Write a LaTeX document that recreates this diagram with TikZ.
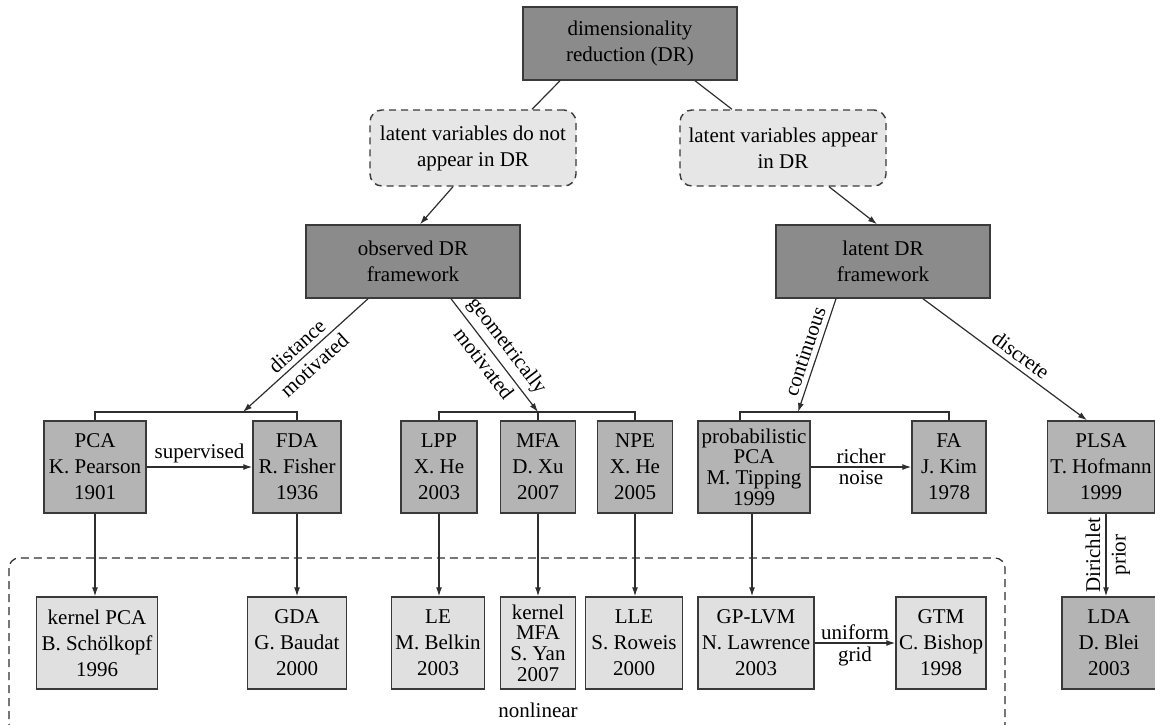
\documentclass[tikz,border=0pt]{standalone}
\usepackage{fontspec}
\setmainfont{Liberation Serif}
\usetikzlibrary{arrows.meta}
\definecolor{frameline}{HTML}{3A3A3A}
\definecolor{linecol}{HTML}{2E2E2E}
\definecolor{darkfill}{HTML}{8B8B8B}
\definecolor{midfill}{HTML}{B4B4B4}
\definecolor{lightfill}{HTML}{E0E0E0}
\definecolor{condfill}{HTML}{E6E6E6}
\begin{document}
\begin{tikzpicture}[x=0.5pt, y=-0.5pt,
  every node/.style={font=\fontsize{10.5}{13}\selectfont, align=center, inner sep=1.5pt},
  framebox/.style={rectangle, draw=frameline, line width=0.75pt, minimum height=46pt},
  darkbox/.style={framebox, fill=darkfill, minimum width=107pt, minimum height=36.5pt},
  methodbox/.style={framebox, fill=midfill},
  extbox/.style={framebox, fill=lightfill},
  condbox/.style={rectangle, rounded corners=6pt, draw=frameline, line width=0.7pt,
    dash pattern=on 3.5pt off 2.5pt, fill=condfill, minimum width=103pt, minimum height=38pt},
  tight/.style={font=\fontsize{10.5}{10.3}\selectfont},
  link/.style={draw=linecol, line width=0.6pt},
  arr/.style={link, -{Latex[length=4.5pt, width=3pt]}},
  edgetext/.style={midway, sloped, inner sep=2.5pt}
]
\useasboundingbox (0,0) rectangle (1155,724);

\draw (630,43.5) node(dr) [darkbox] {dimensionality\\reduction (DR)};
\draw (473,148) node(nolat) [condbox] {latent variables do not\\appear in DR};
\draw (783,148) node(lat) [condbox] {latent variables appear\\in DR};
\draw (413,261.5) node(obs) [darkbox] {observed DR\\framework};
\draw (883,261.5) node(latfw) [darkbox] {latent DR\\framework};

\draw (95,467) node(pca) [methodbox, minimum width=51pt] {PCA\\K. Pearson\\1901};
\draw (297,467) node(fda) [methodbox, minimum width=44pt] {FDA\\R. Fisher\\1936};
\draw (439,467) node(lpp) [methodbox, minimum width=38pt] {LPP\\X. He\\2003};
\draw (538,467) node(mfa) [methodbox, minimum width=37.5pt] {MFA\\D. Xu\\2007};
\draw (635,467) node(npe) [methodbox, minimum width=37.5pt] {NPE\\X. He\\2005};
\draw (754,467) node(ppca) [methodbox, tight, minimum width=56pt] {probabilistic\\PCA\\M. Tipping\\1999};
\draw (949,467) node(fa) [methodbox, minimum width=37pt] {FA\\J. Kim\\1978};
\draw (1101,467) node(plsa) [methodbox, minimum width=52.5pt] {PLSA\\T. Hofmann\\1999};

\draw (97,643) node(kpca) [extbox, minimum width=60.5pt] {kernel PCA\\B. Schölkopf\\1996};
\draw (297,643) node(gda) [extbox, minimum width=49.5pt] {GDA\\G. Baudat\\2000};
\draw (438,643) node(le) [extbox, minimum width=46.5pt] {LE\\M. Belkin\\2003};
\draw (538,643) node(kmfa) [extbox, tight, minimum width=37.5pt] {kernel\\MFA\\S. Yan\\2007};
\draw (634,643) node(lle) [extbox, minimum width=48.5pt] {LLE\\S. Roweis\\2000};
\draw (756,643) node(gplvm) [extbox, minimum width=58pt] {GP-LVM\\N. Lawrence\\2003};
\draw (941,643) node(gtm) [extbox, minimum width=45pt] {GTM\\C. Bishop\\1998};
\draw (1109,643) node(lda) [methodbox, minimum width=47pt] {LDA\\D. Blei\\2003};

\draw[link, dash pattern=on 4pt off 2.5pt, rounded corners=5pt] (9,558) rectangle (1005,734);
\draw (538,710) node(nonlin) {nonlinear};

\coordinate (distEnd) at (243,412);
\coordinate (geoEnd) at (538,412);
\coordinate (contEnd) at (798,412);

\draw[link] ([xshift=-35pt]dr.south) -- ([xshift=29.5pt]nolat.north);
\draw[link] ([xshift=32.5pt]dr.south) -- ([xshift=-25.5pt]lat.north);
\draw[arr] ([xshift=-10pt]nolat.south) -- ([xshift=3.5pt]obs.north);
\draw[arr] ([xshift=23pt]lat.south) -- ([xshift=-3pt]latfw.north);

\draw[arr] ([xshift=-22.5pt]obs.south) -- (distEnd)
  node[edgetext, above] {distance} node[edgetext, below] {motivated};
\draw[arr] ([xshift=19pt]obs.south) -- (geoEnd)
  node[edgetext, above] {geometrically} node[edgetext, below] {motivated};
\draw[arr] ([xshift=-23.5pt]latfw.south) -- (contEnd)
  node[edgetext, above] {continuous};
\draw[arr] ([xshift=20pt]latfw.south) -- ([xshift=-7pt]plsa.north)
  node[edgetext, pos=0.55, above] {discrete};

\draw[link] (pca.north) |- (fda.north |- distEnd) -- (fda.north);
\draw[link] (lpp.north) |- (npe.north |- geoEnd) -- (npe.north);
\draw[link] (geoEnd) -- (mfa.north);
\draw[link] ([xshift=-7pt]ppca.north) |- (fa.north |- contEnd) -- (fa.north);

\draw[arr] (pca.east) -- (fda.west) node[midway, above] {supervised};
\draw[arr] (ppca.east) -- (fa.west) node[midway, above] {richer} node[midway, below] {noise};
\draw[arr] (gplvm.east) -- (gtm.west) node[midway, above] {uniform} node[midway, below] {grid};

\draw[arr] (pca.south) -- (pca.south |- kpca.north);
\draw[arr] (fda.south) -- (fda.south |- gda.north);
\draw[arr] (lpp.south) -- (lpp.south |- le.north);
\draw[arr] (mfa.south) -- (mfa.south |- kmfa.north);
\draw[arr] (npe.south) -- (npe.south |- lle.north);
\draw[arr] ([xshift=-1pt]ppca.south) -- ([xshift=-1pt]ppca.south |- gplvm.north);
\draw[arr] ([xshift=2.5pt]plsa.south) -- ([xshift=2.5pt]plsa.south |- lda.north)
  node[midway, rotate=90, anchor=south, inner sep=2.5pt] {Dirichlet}
  node[midway, rotate=90, anchor=north, inner sep=2.5pt] {prior};
\end{tikzpicture}
\end{document}
